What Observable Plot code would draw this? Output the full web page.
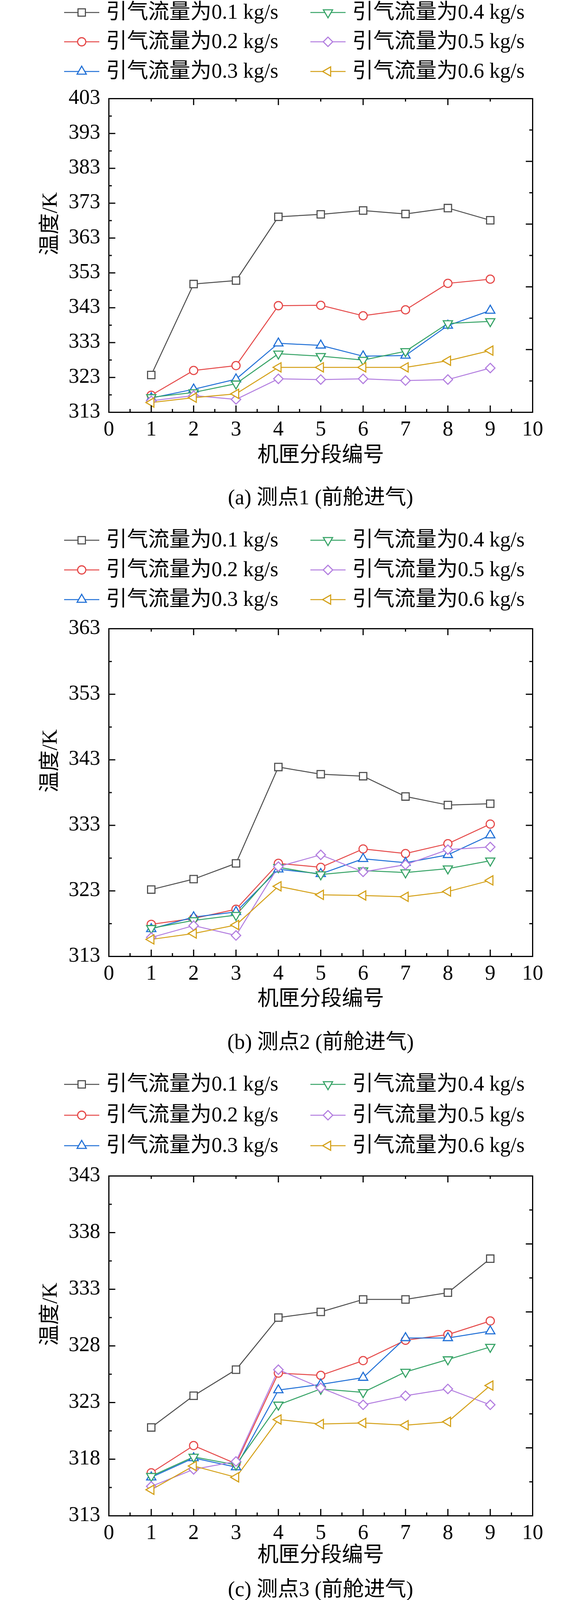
<!DOCTYPE html>
<html>
<head>
<meta charset="utf-8">
<script src="https://cdn.jsdelivr.net/npm/d3@7"></script>
<script src="https://cdn.jsdelivr.net/npm/@observablehq/plot@0.6"></script>
<style>
html, body { margin: 0; padding: 0; background: #fff; }
#page { position: relative; width: 1476px; height: 4143px; overflow: hidden;
  font-family: "Liberation Serif", "Noto Sans CJK SC", serif; color: #000; }
.leg { position: absolute; height: 60px; display: flex; align-items: center; white-space: nowrap;
  font-size: 54px; line-height: 60px; }
.leg svg { display: block; flex: none; }
.leg span { margin-left: 17px; }
.cap { position: absolute; left: 220px; width: 1200px; height: 56px; line-height: 56px;
  text-align: center; font-size: 54px; white-space: nowrap; }
.plotbox { position: absolute; left: 0; }
</style>
</head>
<body>
<div id="page"></div>
<script>
// ---------- data ----------
const segments = [1, 2, 3, 4, 5, 6, 7, 8, 9];
const flowKeys = ["0.1", "0.2", "0.3", "0.4", "0.5", "0.6"];
const flowLabels = ["引气流量为0.1 kg/s", "引气流量为0.2 kg/s", "引气流量为0.3 kg/s",
                    "引气流量为0.4 kg/s", "引气流量为0.5 kg/s", "引气流量为0.6 kg/s"];
const colors = ["#4d4d4d", "#e54848", "#1f6fd6", "#36a366", "#b27ddf", "#d4a017"];
const xTickLabels = [0, 1, 2, 3, 4, 5, 6, 7, 8, 9, 10];
const xTitle = "机匣分段编号";
const yTitle = "温度/K";
const captions = ["(a) 测点1 (前舱进气)", "(b) 测点2 (前舱进气)", "(c) 测点3 (前舱进气)"];

// (a) 测点1
const a01 = [323.7, 349.8, 350.8, 369.1, 369.8, 370.9, 369.9, 371.6, 368.1];
const a02 = [317.9, 325.0, 326.4, 343.6, 343.7, 340.7, 342.4, 350.0, 351.2];
const a03 = [317.1, 319.6, 322.5, 332.8, 332.2, 329.1, 329.3, 337.9, 342.2];
const a04 = [317.3, 318.7, 321.2, 329.8, 329.1, 328.0, 330.5, 338.5, 339.1];
const a05 = [316.3, 317.8, 316.7, 322.6, 322.4, 322.6, 322.1, 322.4, 325.7];
const a06 = [315.8, 317.2, 318.3, 325.9, 325.9, 325.9, 325.9, 327.8, 330.7];
const aYTicks = [313, 323, 333, 343, 353, 363, 373, 383, 393, 403];

// (b) 测点2
const b01 = [323.2, 324.8, 327.2, 341.9, 340.8, 340.5, 337.4, 336.1, 336.3];
const b02 = [317.9, 318.8, 320.2, 327.2, 326.6, 329.4, 328.7, 330.2, 333.2];
const b03 = [317.2, 319.0, 319.8, 326.3, 325.6, 327.9, 327.3, 328.5, 331.5];
const b04 = [317.3, 318.5, 319.3, 326.6, 325.5, 326.1, 325.8, 326.4, 327.6];
const b05 = [315.9, 317.7, 316.2, 326.7, 328.5, 325.9, 327.0, 329.3, 329.7];
const b06 = [315.6, 316.5, 317.8, 323.7, 322.4, 322.3, 322.1, 322.9, 324.6];
const bYTicks = [313, 323, 333, 343, 353, 363];

// (c) 测点3
const c01 = [320.8, 323.6, 325.9, 330.5, 331.0, 332.1, 332.1, 332.7, 335.7];
const c02 = [316.8, 319.2, 317.6, 325.6, 325.4, 326.7, 328.5, 329.0, 330.2];
const c03 = [316.4, 318.1, 317.3, 324.1, 324.6, 325.2, 328.7, 328.7, 329.3];
const c04 = [316.5, 318.2, 317.5, 322.8, 324.2, 323.9, 325.7, 326.8, 327.9];
const c05 = [315.6, 317.1, 317.8, 325.9, 324.3, 322.8, 323.6, 324.2, 322.8];
const c06 = [315.3, 317.4, 316.4, 321.5, 321.1, 321.2, 321.0, 321.3, 324.5];
const cYTicks = [313, 318, 323, 328, 333, 338, 343];

// ---------- symbols ----------
function poly(angles, k) {
  return {
    draw(ctx, size) {
      const r = Math.sqrt(size / Math.PI) * k;
      angles.forEach((a, i) => {
        const t = a * Math.PI / 180, x = r * Math.cos(t), y = r * Math.sin(t);
        if (i) ctx.lineTo(x, y); else ctx.moveTo(x, y);
      });
      ctx.closePath();
    }
  };
}
const symbols = [
  poly([45, 135, 225, 315], 1.27),   // square
  d3.symbolCircle,                    // circle
  poly([-90, 30, 150], 1.3),          // triangle up
  poly([90, 210, 330], 1.3),          // triangle down
  poly([-90, 0, 90, 180], 1.15),      // diamond
  poly([180, 300, 60], 1.3)           // triangle left
];
const R = 10.5;

const page = document.getElementById("page");

function legend(rowCenters) {
  flowLabels.forEach((lab, i) => {
    const col = i < 3 ? 0 : 1, row = i % 3;
    const div = document.createElement("div");
    div.className = "leg";
    div.style.left = (col === 0 ? 164 : 794) + "px";
    div.style.top = (rowCenters[row] - 32) + "px";
    const path = d3.symbol().type(symbols[i]).size(Math.PI * R * R)();
    div.innerHTML =
      `<svg width="90" height="40" viewBox="0 0 90 40" style="margin-top:4px">
         <line x1="0" x2="90" y1="20" y2="20" stroke="${colors[i]}" stroke-width="2.6"/>
         <path d="${path}" transform="translate(45,20)" fill="white" stroke="${colors[i]}" stroke-width="2.8"/>
       </svg><span>${lab}</span>`;
    page.appendChild(div);
  });
}

function panel(cfg) {
  const rows = [];
  cfg.series.forEach((vals, i) => vals.forEach((v, j) =>
    rows.push({seg: segments[j], temp: v, flow: flowKeys[i]})));
  const innerH = cfg.frameBottom - cfg.frameTop;
  const mt = 40, mb = 160, ml = 278, mr = 114;
  const innerW = 1476 - ml - mr;
  const maj = 17, mnr = 8;
  const [y0, y1] = cfg.yDomain;
  const yMinorL = cfg.yTicks.slice(0, -1).map((t, i) => (t + cfg.yTicks[i + 1]) / 2);
  const rMaj = d3.range(y0, y1 + 0.01, cfg.rightStep);
  const rMin = rMaj.slice(0, -1).map((t, i) => (t + rMaj[i + 1]) / 2);
  const xMinor = d3.range(0.5, 10, 1);
  const topMaj = [0, 2, 4, 6, 8, 10], topMin = [1, 3, 5, 7, 9];
  const tk = {strokeWidth: 3, stroke: "black"};

  const chart = Plot.plot({
    width: 1476,
    height: mt + innerH + mb,
    marginLeft: ml, marginRight: mr, marginTop: mt, marginBottom: mb,
    x: {domain: [0, 10]},
    y: {domain: cfg.yDomain},
    color: {domain: flowKeys, range: colors},
    style: {fontFamily: '"Liberation Serif", "Noto Sans CJK SC", serif', fontSize: "54px",
            color: "black", background: "transparent", overflow: "visible"},
    marks: [
      Plot.line(rows, {x: "seg", y: "temp", z: "flow", stroke: "flow", strokeWidth: 2.5}),
      ...flowKeys.map((k, i) => Plot.dot(rows.filter(d => d.flow === k),
        {x: "seg", y: "temp", symbol: symbols[i], r: R, stroke: colors[i], strokeWidth: 2.8, fill: "white"})),
      // bottom ticks
      Plot.tickX(xTickLabels, {x: d => d, insetTop: innerH - maj, ...tk}),
      Plot.tickX(xMinor, {x: d => d, insetTop: innerH - mnr, ...tk}),
      // top ticks
      Plot.tickX(topMaj, {x: d => d, insetBottom: innerH - maj, ...tk}),
      Plot.tickX(topMin, {x: d => d, insetBottom: innerH - mnr, ...tk}),
      // left ticks
      Plot.tickY(cfg.yTicks, {y: d => d, insetRight: innerW - maj, ...tk}),
      Plot.tickY(yMinorL, {y: d => d, insetRight: innerW - mnr, ...tk}),
      // right ticks
      Plot.tickY(rMaj, {y: d => d, insetLeft: innerW - maj, ...tk}),
      Plot.tickY(rMin, {y: d => d, insetLeft: innerW - mnr, ...tk}),
      Plot.frame({stroke: "black", strokeWidth: 3}),
      Plot.axisY({ticks: cfg.yTicks, tickSize: 0, tickPadding: 22, label: null, fontSize: 54, dy: -4}),
      Plot.axisX({ticks: xTickLabels, tickSize: 0, tickPadding: 21, label: null, fontSize: 54}),
      Plot.text([xTitle], {frameAnchor: "bottom", dy: cfg.xTitleDy, fontSize: 54, text: d => d}),
      Plot.text([yTitle], {frameAnchor: "left", rotate: -90, dx: -151, fontSize: 54, text: d => d})
    ]
  });
  const box = document.createElement("div");
  box.className = "plotbox";
  box.style.top = (cfg.frameTop - mt) + "px";
  box.appendChild(chart);
  page.appendChild(box);

  legend(cfg.legendRows);

  const cap = document.createElement("div");
  cap.className = "cap";
  cap.style.top = (cfg.captionY - 32) + "px";
  cap.textContent = cfg.caption;
  page.appendChild(cap);
}

panel({series: [a01, a02, a03, a04, a05, a06], yDomain: [313, 403], yTicks: aYTicks, rightStep: 18,
       frameTop: 252, frameBottom: 1055, xTitleDy: 126, captionY: 1277,
       legendRows: [32, 107, 183], caption: captions[0]});
panel({series: [b01, b02, b03, b04, b05, b06], yDomain: [313, 363], yTicks: bYTicks, rightStep: 10,
       frameTop: 1609, frameBottom: 2448, xTitleDy: 125, captionY: 2671,
       legendRows: [1383, 1459, 1535], caption: captions[1]});
panel({series: [c01, c02, c03, c04, c05, c06], yDomain: [313, 343], yTicks: cYTicks, rightStep: 6,
       frameTop: 3010, frameBottom: 3880, xTitleDy: 117, captionY: 4072,
       legendRows: [2776, 2855, 2933], caption: captions[2]});
</script>
</body>
</html>
